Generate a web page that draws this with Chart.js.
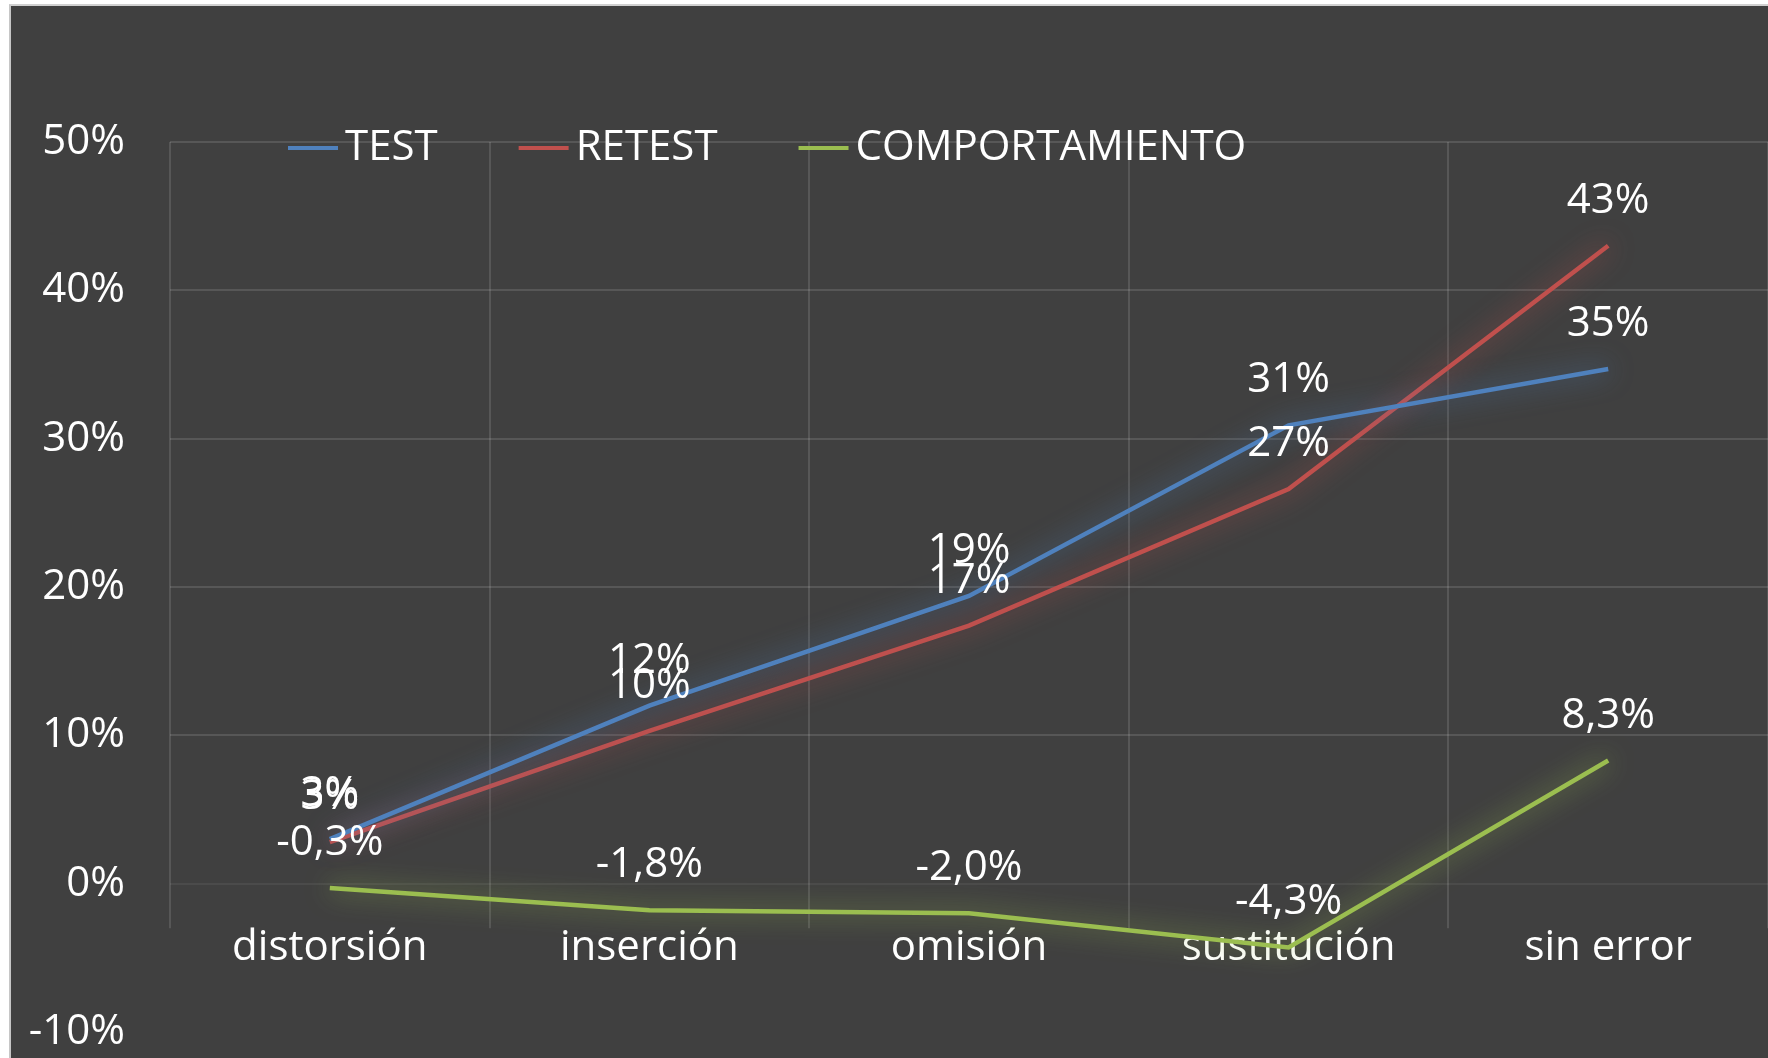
<!DOCTYPE html>
<html>
<head>
<meta charset="utf-8">
<script src="https://cdn.jsdelivr.net/npm/chart.js@4.4.1/dist/chart.umd.min.js"></script>
<style>
  html, body { margin: 0; padding: 0; background: #ffffff; overflow: hidden; }
  #wrap {
    position: absolute; left: 9px; top: 4px;
    width: 1757px; height: 1052px;
    background: #404040;
    border-left: 2px solid #c6c6c6; border-top: 2px solid #d0d0d0;
  }
</style>
</head>
<body>
<div id="wrap"><canvas id="myChart" width="1757" height="1052"></canvas></div>
<script>
var categories = ["distorsión", "inserción", "omisión", "sustitución", "sin error"];
var seriesNames = ["TEST", "RETEST", "COMPORTAMIENTO"];
var test = [3.0, 12.0, 19.4, 30.9, 34.7];
var retest = [2.8, 10.3, 17.4, 26.6, 43.0];
var comportamiento = [-0.3, -1.8, -2.0, -4.3, 8.3];
var labelDecimals = [0, 0, 1];
var yTicks = [-10, 0, 10, 20, 30, 40, 50];

var colors = ['rgb(79,129,189)', 'rgb(192,80,77)', 'rgb(155,190,80)'];
var glows = ['rgba(79,129,189,0.85)', 'rgba(192,80,77,0.85)', 'rgba(155,190,80,0.85)'];
var gridColor = 'rgba(255,255,255,0.12)';
var FONT = "'Open Sans', 'Noto Sans', sans-serif";

Chart.defaults.font.family = FONT;
Chart.defaults.color = '#ffffff';

function fmt(v, d) {
  if (d === 0) return Math.round(v) + '%';
  return v.toFixed(d).replace('.', ',') + '%';
}

// vertical category gridlines, which stop a bit below the zero line in the original
var vGridPlugin = {
  id: 'vGrid',
  beforeDatasetsDraw: function(chart) {
    var ctx = chart.ctx, xs = chart.scales.x, ys = chart.scales.y;
    var top = chart.chartArea.top, bottom = ys.getPixelForValue(-3);
    var step = xs.width / categories.length;
    ctx.save();
    ctx.strokeStyle = gridColor;
    ctx.lineWidth = 2;
    for (var i = 0; i <= categories.length; i++) {
      var x = Math.round(xs.left + i * step);
      ctx.beginPath();
      ctx.moveTo(x, top);
      ctx.lineTo(x, bottom);
      ctx.stroke();
    }
    ctx.restore();
  }
};

// soft glow behind each line
var glowPlugin = {
  id: 'glow',
  beforeDatasetDraw: function(chart, args) {
    var ctx = chart.ctx;
    ctx.save();
    ctx.shadowColor = glows[args.index];
    ctx.shadowBlur = 26;
  },
  afterDatasetDraw: function(chart) {
    chart.ctx.restore();
  }
};

// value labels above the points
var labelPlugin = {
  id: 'valueLabels',
  afterDatasetsDraw: function(chart) {
    var ctx = chart.ctx;
    ctx.save();
    ctx.font = '42px ' + FONT;
    ctx.fillStyle = '#ffffff';
    ctx.textAlign = 'center';
    ctx.textBaseline = 'middle';
    chart.data.datasets.forEach(function(ds, i) {
      var meta = chart.getDatasetMeta(i);
      meta.data.forEach(function(pt, j) {
        ctx.fillText(fmt(ds.data[j], labelDecimals[i]), pt.x, pt.y - 45);
      });
    });
    ctx.restore();
  }
};

// legend drawn inside the plot, like the original
var legendPlugin = {
  id: 'innerLegend',
  afterDraw: function(chart) {
    var ctx = chart.ctx;
    ctx.save();
    ctx.font = '42px ' + FONT;
    ctx.textBaseline = 'middle';
    ctx.textAlign = 'left';
    var x = chart.chartArea.left + 118;
    var y = chart.chartArea.top + 6;
    chart.data.datasets.forEach(function(ds, i) {
      ctx.strokeStyle = colors[i];
      ctx.lineWidth = 4;
      ctx.beginPath();
      ctx.moveTo(x, y);
      ctx.lineTo(x + 50, y);
      ctx.stroke();
      ctx.fillStyle = '#ffffff';
      ctx.fillText(ds.label, x + 57, y);
      x += 57 + ctx.measureText(ds.label).width + 81;
    });
    ctx.restore();
  }
};

var ctx = document.getElementById('myChart').getContext('2d');
var allSeries = [test, retest, comportamiento];

var chart = new Chart(ctx, {
  type: 'line',
  data: {
    labels: categories,
    datasets: allSeries.map(function(d, i) {
      return {
        label: seriesNames[i],
        data: d,
        borderColor: colors[i],
        backgroundColor: colors[i],
        borderWidth: 4.5,
        pointRadius: 0,
        tension: 0
      };
    })
  },
  options: {
    responsive: false,
    animation: false,
    layout: { padding: { top: 136, bottom: 26, left: 0, right: 0 } },
    plugins: {
      legend: { display: false },
      tooltip: { enabled: false }
    },
    scales: {
      x: {
        position: { y: 0 },
        offset: true,
        grid: { display: false },
        border: { display: false },
        ticks: { font: { size: 42 }, color: '#ffffff', padding: 31 },
        afterFit: function(scale) { scale.height = 0; }
      },
      y: {
        min: yTicks[0],
        max: yTicks[yTicks.length - 1],
        afterBuildTicks: function(scale) {
          scale.ticks = yTicks.map(function(v) { return { value: v }; });
        },
        grid: {
          color: function(c) {
            if (!c.tick) return gridColor;
            if (c.tick.value === yTicks[0]) return 'rgba(0,0,0,0)';
            if (c.tick.value === 0) return 'rgba(255,255,255,0.06)';
            return gridColor;
          },
          lineWidth: 2,
          drawTicks: false
        },
        border: { display: false },
        ticks: {
          font: { size: 42 },
          color: '#ffffff',
          padding: 45,
          callback: function(v) { return v + '%'; }
        },
        afterFit: function(scale) {
          scale.width = 159;
          scale.paddingTop = 0;
          scale.paddingBottom = 0;
        }
      }
    }
  },
  plugins: [vGridPlugin, glowPlugin, labelPlugin, legendPlugin]
});
</script>
</body>
</html>
